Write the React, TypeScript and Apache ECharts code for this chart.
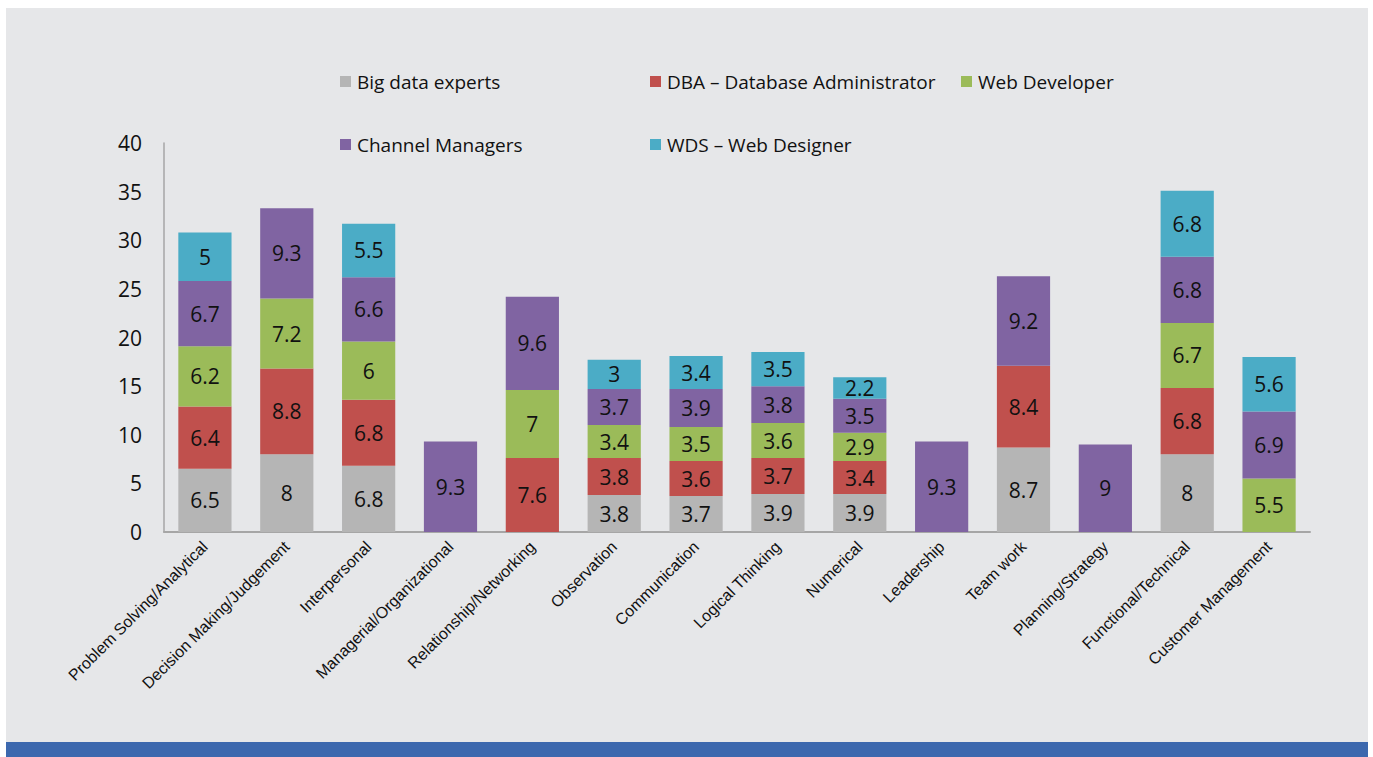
import React, { useEffect, useRef } from "react";
import * as echarts from "echarts";

const categories = [
  "Problem Solving/Analytical",
  "Decision Making/Judgement",
  "Interpersonal",
  "Managerial/Organizational",
  "Relationship/Networking",
  "Observation",
  "Communication",
  "Logical Thinking",
  "Numerical",
  "Leadership",
  "Team work",
  "Planning/Strategy",
  "Functional/Technical",
  "Customer Management",
];

const bigData = [6.5, 8, 6.8, null, null, 3.8, 3.7, 3.9, 3.9, null, 8.7, null, 8, null];
const dba = [6.4, 8.8, 6.8, null, 7.6, 3.8, 3.6, 3.7, 3.4, null, 8.4, null, 6.8, null];
const webDev = [6.2, 7.2, 6, null, 7, 3.4, 3.5, 3.6, 2.9, null, null, null, 6.7, 5.5];
const channel = [6.7, 9.3, 6.6, 9.3, 9.6, 3.7, 3.9, 3.8, 3.5, 9.3, 9.2, 9, 6.8, 6.9];
const wds = [5, null, 5.5, null, null, 3, 3.4, 3.5, 2.2, null, null, null, 6.8, 5.6];

const seriesNames = [
  "Big data experts",
  "DBA – Database Administrator",
  "Web Developer",
  "Channel Managers",
  "WDS – Web Designer",
];
const seriesData = [bigData, dba, webDev, channel, wds];
const colors = ["#b5b5b5", "#c0504d", "#9bbb59", "#8064a2", "#4bacc6"];
const yTicks = { min: 0, max: 40, interval: 5 };

const legendPos = [
  { left: 340, top: 72 },
  { left: 650, top: 72 },
  { left: 961, top: 72 },
  { left: 340, top: 135 },
  { left: 650, top: 135 },
];

export default function App() {
  const ref = useRef<HTMLDivElement>(null);
  useEffect(() => {
    if (!ref.current) return;
    const chart = echarts.init(ref.current, null, { renderer: "svg" });
    const font = "'Open Sans', 'Noto Sans', sans-serif";
    chart.setOption({
      animation: false,
      graphic: [
        { type: "rect", z: -10, silent: true, shape: { x: 6, y: 8, width: 1362, height: 734 }, style: { fill: "#e6e7e9" } },
        { type: "rect", z: -10, silent: true, shape: { x: 6, y: 742, width: 1362, height: 15 }, style: { fill: "#3c68ae" } },
      ],
      legend: seriesNames.map((n, i) => ({
        data: [n],
        left: legendPos[i].left,
        top: legendPos[i].top,
        padding: 0,
        itemWidth: 11,
        itemHeight: 11,
        itemGap: 0,
        icon: "rect",
        selectedMode: false,
        textStyle: { fontFamily: font, fontSize: 19, color: "#111", padding: [0, 0, 0, 1] },
      })),
      grid: { left: 164, top: 143, right: 63, bottom: 225, containLabel: false },
      xAxis: {
        type: "category",
        data: categories,
        axisLine: { lineStyle: { color: "#a6a6a6", width: 2 } },
        axisTick: { show: false },
        axisLabel: {
          rotate: 45,
          interval: 0,
          fontFamily: "'Liberation Sans', Arial, sans-serif",
          fontSize: 16,
          color: "#111",
          margin: 12,
        },
      },
      yAxis: {
        type: "value",
        min: yTicks.min,
        max: yTicks.max,
        interval: yTicks.interval,
        splitLine: { show: false },
        axisLine: { show: true, lineStyle: { color: "#a6a6a6", width: 1.5 } },
        axisTick: { show: false },
        axisLabel: { fontFamily: font, fontSize: 21, color: "#111", margin: 22 },
      },
      series: seriesNames.map((n, i) => ({
        name: n,
        type: "bar",
        stack: "total",
        barCategoryGap: "35%",
        data: seriesData[i],
        itemStyle: { color: colors[i] },
        label: {
          show: true,
          position: "inside",
          fontFamily: font,
          fontSize: 21,
          color: "#111",
        },
      })),
    });
    return () => chart.dispose();
  }, []);
  return (
    <div
      ref={ref}
      style={{ position: "fixed", left: 0, top: 0, width: 1373, height: 757, background: "#fff" }}
    />
  );
}
